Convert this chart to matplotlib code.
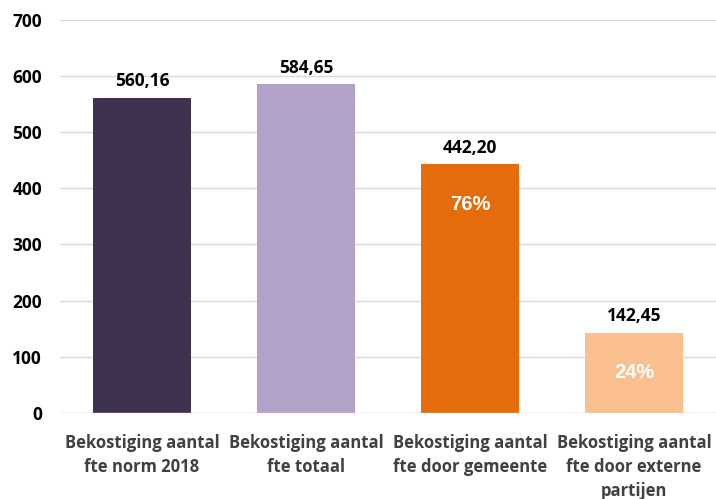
import matplotlib
matplotlib.use('Agg')
import matplotlib.pyplot as plt

categorieen = ["Bekostiging aantal\nfte norm 2018", "Bekostiging aantal\nfte totaal",
               "Bekostiging aantal\nfte door gemeente", "Bekostiging aantal\nfte door externe\npartijen"]
waarden = [560.16, 584.65, 442.20, 142.45]
labels = ["560,16", "584,65", "442,20", "142,45"]
aandeel = ["", "", "76%", "24%"]
kleuren = ["#403151", "#B3A2C7", "#E46C0A", "#FAC090"]

fig = plt.figure(figsize=(7.16, 4.99), dpi=100)
ax = fig.add_axes([0.0838, 0.1723, 0.9162, 0.7886])

x = list(range(len(waarden)))
ax.bar(x, waarden, width=0.6, color=kleuren, zorder=3)
ax.axhline(0, color='#D9D9D9', linewidth=1, zorder=4)

for i, v in enumerate(waarden):
    ax.text(i, v + 21, labels[i], ha='center', va='baseline', fontsize=12.5,
            fontweight='bold', family='Open Sans', color='#000000')
    if aandeel[i]:
        ax.text(i, v - 71, aandeel[i], ha='center', va='center', fontsize=14.5,
                fontweight='bold', family='Liberation Sans', color='white', zorder=5)

ax.set_xlim(-0.5, 3.5)
ax.set_ylim(0, 700)
ax.set_yticks(range(0, 701, 100))
ax.yaxis.grid(True, color='#D9D9D9', linewidth=1, zorder=0)
ax.set_axisbelow(True)
for s in ax.spines.values():
    s.set_visible(False)
ax.tick_params(axis='both', length=0)
ax.tick_params(axis='y', pad=13)
ax.tick_params(axis='x', pad=15)
for t in ax.get_yticklabels():
    t.set_fontsize(12.5)
    t.set_fontweight('bold')
    t.set_family('Open Sans')
ax.set_xticks(x)
ax.set_xticklabels(categorieen, fontsize=12, fontweight='bold', family='Open Sans',
                   color='#404040', linespacing=1.45)

plt.savefig("out.png", dpi=100)
